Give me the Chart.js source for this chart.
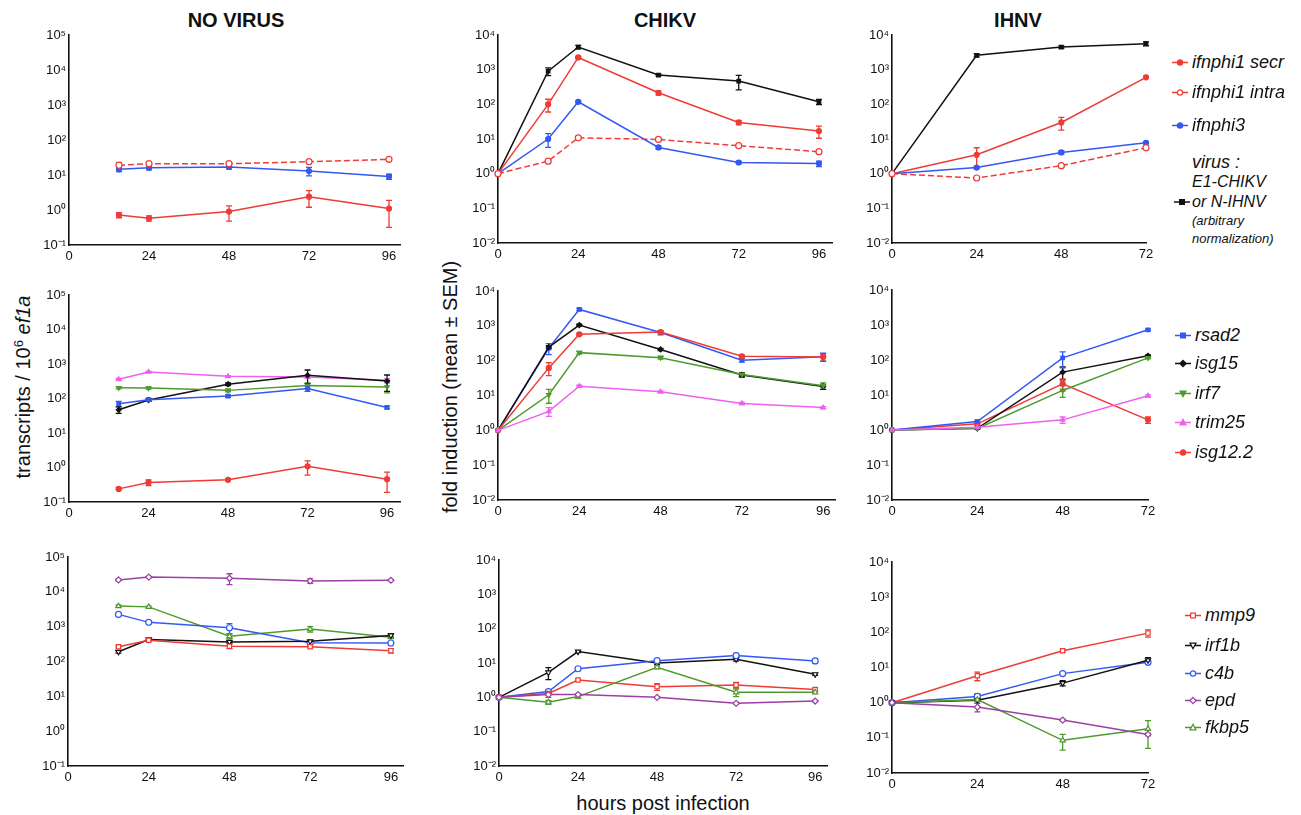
<!DOCTYPE html>
<html>
<head>
<meta charset="utf-8">
<title>Interferon and ISG kinetics</title>
<script src="https://cdn.jsdelivr.net/npm/chart.js@4.4.1/dist/chart.umd.min.js"></script>
<style>
  body { margin: 0; background: #fff; width: 1301px; height: 815px; position: relative; overflow: hidden;
         font-family: "Liberation Sans", Arial, Helvetica, sans-serif; color: #111; }
  canvas { position: absolute; }
  .col-title { position: absolute; font-weight: bold; font-size: 20px; white-space: nowrap; transform: translate(-50%, -50%); }
  .axis-title { position: absolute; font-size: 20px; white-space: nowrap; transform: translate(-50%, -50%); }
  .axis-title.vert { transform: translate(-50%, -50%) rotate(-90deg); }
  .axis-title sup { font-size: 13px; }
  .legend-item { position: absolute; display: flex; align-items: center; font-style: italic; font-size: 18px;
                 white-space: nowrap; transform: translateY(-50%); }
  .legend-item svg { margin-right: 4px; }
  .legend-text { position: absolute; font-style: italic; white-space: nowrap; transform: translateY(-50%); }
</style>
</head>
<body>

<div class="col-title" style="left:236px; top:20px;">NO VIRUS</div>
<div class="col-title" style="left:665px; top:20px;">CHIKV</div>
<div class="col-title" style="left:1018px; top:20px;">IHNV</div>

<div class="axis-title vert" style="left:23px; top:387px;">transcripts / 10<sup>6</sup> <i>ef1a</i></div>
<div class="axis-title vert" style="left:450px; top:387px;">fold induction (mean ± SEM)</div>
<div class="axis-title" style="left:663px; top:803px;">hours post infection</div>

<div class="legend-text" style="left:1192px; top:162px; font-size:18px;">virus :</div>
<div class="legend-text" style="left:1192px; top:182px; font-size:16px;">E1-CHIKV</div>
<div class="legend-text" style="left:1192px; top:202px; font-size:16px;">or N-IHNV</div>
<div class="legend-text" style="left:1192px; top:220px; font-size:13px;">(arbitrary</div>
<div class="legend-text" style="left:1192px; top:238px; font-size:13px;">normalization)</div>

<script>
// time points (hours post infection)
const hoursNoVirus = [15, 24, 48, 72, 96];
const hoursChikv = [0, 15, 24, 48, 72, 96];
const hoursIhnv = [0, 24, 48, 72];
const hourTicksLong = [0, 24, 48, 72, 96];
const hourTicksShort = [0, 24, 48, 72];
const decadesNoVirus = [0.1, 1, 10, 100, 1000, 10000, 100000];
const decadesFold = [0.01, 0.1, 1, 10, 100, 1000, 10000];

// row 1: interferons + virus
const secrNoVirus = [0.72, 0.58, 0.9, 2.4, 1.1];
const secrNoVirusSem = [0.12, 0.1, 0.42, 1.2, 0.78];
const secrChikv = [1, 100, 2250, 215, 30, 17];
const secrChikvSem = [0, 40, 150, 30, 4, 6.5];
const secrIhnv = [1, 3.5, 30, 600];
const secrIhnvSem = [0, 2.1, 12, 40];

const intraNoVirus = [19, 21, 21, 24, 28];
const intraNoVirusSem = [4, 1.5, 1.5, 2, 3];
const intraChikv = [1, 2.3, 10.8, 9.7, 6.4, 4.3];
const intraChikvSem = [0, 0.15, 0.8, 0.7, 0.4, 0.3];
const intraIhnv = [1, 0.75, 1.7, 5.6];
const intraIhnvSem = [0, 0.05, 0.1, 0.4];

const ifn3NoVirus = [14.5, 16, 17, 13, 9];
const ifn3NoVirusSem = [2, 2, 2.2, 3.5, 1.5];
const ifn3Chikv = [1, 10, 118, 5.7, 2.1, 1.95];
const ifn3ChikvSem = [0, 4.3, 8, 0.6, 0.15, 0.35];
const ifn3Ihnv = [1, 1.5, 4.1, 7.8];
const ifn3IhnvSem = [0, 0.1, 0.5, 0.5];

const virusChikv = [1, 900, 4500, 700, 470, 118];
const virusChikvSem = [0, 230, 500, 40, 210, 20];
const virusIhnv = [1, 2600, 4500, 5600];
const virusIhnvSem = [0, 250, 350, 700];

// row 2: interferon-stimulated genes
const rsad2NoVirus = [70, 92, 118, 195, 55];
const rsad2NoVirusSem = [12, 10, 10, 35, 5];
const rsad2Chikv = [1, 230, 2950, 640, 103, 130];
const rsad2ChikvSem = [0, 80, 200, 90, 12, 35];
const rsad2Ihnv = [1, 1.75, 115, 730];
const rsad2IhnvSem = [0, 0.15, 55, 50];

const isg15NoVirus = [47, 90, 260, 470, 320];
const isg15NoVirusSem = [10, 8, 25, 200, 160];
const isg15Chikv = [1, 245, 1050, 210, 39, 18];
const isg15ChikvSem = [0, 25, 60, 15, 5, 3];
const isg15Ihnv = [1, 1.12, 45, 132];
const isg15IhnvSem = [0, 0.05, 18, 8];

const irf7NoVirus = [205, 200, 172, 240, 215];
const irf7NoVirusSem = [15, 12, 15, 45, 70];
const irf7Chikv = [1, 10.5, 170, 122, 40, 19];
const irf7ChikvSem = [0, 4.5, 15, 12, 5, 4];
const irf7Ihnv = [1, 1.1, 13.5, 115];
const irf7IhnvSem = [0, 0.05, 5, 8];

const trim25NoVirus = [360, 590, 440, 420, 340];
const trim25NoVirusSem = [20, 25, 20, 30, 35];
const trim25Chikv = [1, 3.5, 18.5, 12.8, 5.9, 4.5];
const trim25ChikvSem = [0, 1.0, 1.2, 0.8, 0.4, 0.3];
const trim25Ihnv = [1, 1.2, 1.95, 9.5];
const trim25IhnvSem = [0, 0.05, 0.4, 0.6];

const isg12NoVirus = [0.24, 0.37, 0.44, 1.08, 0.46];
const isg12NoVirusSem = [0.02, 0.07, 0.03, 0.48, 0.27];
const isg12Chikv = [1, 62, 570, 660, 134, 128];
const isg12ChikvSem = [0, 25, 40, 50, 10, 30];
const isg12Ihnv = [1, 1.5, 21, 1.95];
const isg12IhnvSem = [0, 0.15, 8, 0.4];

// row 3: other genes
const mmp9NoVirus = [265, 410, 275, 265, 205];
const mmp9NoVirusSem = [20, 25, 40, 20, 30];
const mmp9Chikv = [1, 1.3, 3.2, 2.05, 2.3, 1.7];
const mmp9ChikvSem = [0, 0.1, 0.2, 0.45, 0.4, 0.15];
const mmp9Ihnv = [1, 5.8, 30, 95];
const mmp9IhnvSem = [0, 1.6, 2.5, 22];

const irf1bNoVirus = [190, 430, 365, 380, 560];
const irf1bNoVirusSem = [15, 20, 25, 25, 60];
const irf1bChikv = [1, 5.3, 21.5, 10, 12.8, 4.7];
const irf1bChikvSem = [0, 2, 1.5, 1, 1.5, 0.3];
const irf1bIhnv = [1, 1.17, 3.6, 16];
const irf1bIhnvSem = [0, 0.1, 0.6, 3];

const c4bNoVirus = [2250, 1330, 930, 345, 340];
const c4bNoVirusSem = [150, 80, 300, 30, 25];
const c4bChikv = [1, 1.47, 6.8, 11.7, 16.5, 11.5];
const c4bChikvSem = [0, 0.15, 0.4, 0.8, 2.5, 1.5];
const c4bIhnv = [1, 1.5, 6.7, 14];
const c4bIhnvSem = [0, 0.3, 0.4, 1.5];

const epdNoVirus = [22000, 26500, 24500, 20500, 21500];
const epdNoVirusSem = [1000, 1200, 8500, 3000, 1000];
const epdChikv = [1, 1.2, 1.2, 1.0, 0.67, 0.78];
const epdChikvSem = [0, 0.2, 0.08, 0.05, 0.04, 0.04];
const epdIhnv = [1, 0.75, 0.32, 0.125];
const epdIhnvSem = [0, 0.2, 0.02, 0.01];

const fkbp5NoVirus = [3900, 3700, 530, 850, 500];
const fkbp5NoVirusSem = [300, 200, 80, 150, 40];
const fkbp5Chikv = [1, 0.72, 1.05, 7.5, 1.4, 1.4];
const fkbp5ChikvSem = [0, 0.1, 0.1, 0.6, 0.35, 0.1];
const fkbp5Ihnv = [1, 1.22, 0.085, 0.18];
const fkbp5IhnvSem = [0, 0.5, 0.04, 0.13];

// colours / markers
const RED = '#ef3b36', BLUE = '#3358f4', BLACK = '#111111',
      GREEN = '#4f9a2c', MAGENTA = '#f060f0', PURPLE = '#9c3fa6';

const genes = {
  secr:   { label: 'ifnphi1 secr',  color: RED,     shape: 'circle' },
  intra:  { label: 'ifnphi1 intra', color: RED,     shape: 'circle', open: true, dash: [6, 3] },
  ifn3:   { label: 'ifnphi3',       color: BLUE,    shape: 'circle' },
  virus:  { label: '',              color: BLACK,   shape: 'rect' },
  rsad2:  { label: 'rsad2',         color: BLUE,    shape: 'rect' },
  isg15:  { label: 'isg15',         color: BLACK,   shape: 'rectRot' },
  irf7:   { label: 'irf7',          color: GREEN,   shape: 'triDown' },
  trim25: { label: 'trim25',        color: MAGENTA, shape: 'triangle' },
  isg12:  { label: 'isg12.2',       color: RED,     shape: 'circle' },
  mmp9:   { label: 'mmp9',          color: RED,     shape: 'rect', open: true },
  irf1b:  { label: 'irf1b',         color: BLACK,   shape: 'triDown', open: true },
  c4b:    { label: 'c4b',           color: BLUE,    shape: 'circle', open: true },
  epd:    { label: 'epd',           color: PURPLE,  shape: 'rectRot', open: true },
  fkbp5:  { label: 'fkbp5',         color: GREEN,   shape: 'triangle', open: true }
};

// panel frames: pixel of y axis, top decade, x axis, right end of x axis
const panels = [
  { left: 69,  top: 35,  right: 400,  bottom: 245, xMax: 99.3, ticksY: decadesNoVirus, hours: hoursNoVirus,
    series: [['intra', intraNoVirus, intraNoVirusSem], ['ifn3', ifn3NoVirus, ifn3NoVirusSem], ['secr', secrNoVirus, secrNoVirusSem]] },
  { left: 498, top: 35,  right: 832,  bottom: 243, xMax: 99.9, ticksY: decadesFold, hours: hoursChikv,
    series: [['intra', intraChikv, intraChikvSem], ['ifn3', ifn3Chikv, ifn3ChikvSem], ['secr', secrChikv, secrChikvSem], ['virus', virusChikv, virusChikvSem]] },
  { left: 892, top: 35,  right: 1146, bottom: 243, xMax: 72, ticksY: decadesFold, hours: hoursIhnv,
    series: [['intra', intraIhnv, intraIhnvSem], ['ifn3', ifn3Ihnv, ifn3IhnvSem], ['secr', secrIhnv, secrIhnvSem], ['virus', virusIhnv, virusIhnvSem]] },

  { left: 69,  top: 295, right: 400,  bottom: 502, xMax: 99.9, ticksY: decadesNoVirus, hours: hoursNoVirus,
    series: [['isg12', isg12NoVirus, isg12NoVirusSem], ['rsad2', rsad2NoVirus, rsad2NoVirusSem], ['irf7', irf7NoVirus, irf7NoVirusSem], ['isg15', isg15NoVirus, isg15NoVirusSem], ['trim25', trim25NoVirus, trim25NoVirusSem]] },
  { left: 498, top: 291, right: 835,  bottom: 500, xMax: 99.5, ticksY: decadesFold, hours: hoursChikv,
    series: [['trim25', trim25Chikv, trim25ChikvSem], ['irf7', irf7Chikv, irf7ChikvSem], ['isg12', isg12Chikv, isg12ChikvSem], ['isg15', isg15Chikv, isg15ChikvSem], ['rsad2', rsad2Chikv, rsad2ChikvSem]] },
  { left: 892, top: 290, right: 1148, bottom: 500, xMax: 72, ticksY: decadesFold, hours: hoursIhnv,
    series: [['trim25', trim25Ihnv, trim25IhnvSem], ['irf7', irf7Ihnv, irf7IhnvSem], ['isg15', isg15Ihnv, isg15IhnvSem], ['rsad2', rsad2Ihnv, rsad2IhnvSem], ['isg12', isg12Ihnv, isg12IhnvSem]] },

  { left: 68,  top: 557, right: 403,  bottom: 766, xMax: 99.6, ticksY: decadesNoVirus, hours: hoursNoVirus,
    series: [['mmp9', mmp9NoVirus, mmp9NoVirusSem], ['irf1b', irf1bNoVirus, irf1bNoVirusSem], ['c4b', c4bNoVirus, c4bNoVirusSem], ['fkbp5', fkbp5NoVirus, fkbp5NoVirusSem], ['epd', epdNoVirus, epdNoVirusSem]] },
  { left: 499, top: 560, right: 827,  bottom: 766, xMax: 99.6, ticksY: decadesFold, hours: hoursChikv,
    series: [['epd', epdChikv, epdChikvSem], ['fkbp5', fkbp5Chikv, fkbp5ChikvSem], ['mmp9', mmp9Chikv, mmp9ChikvSem], ['c4b', c4bChikv, c4bChikvSem], ['irf1b', irf1bChikv, irf1bChikvSem]] },
  { left: 892, top: 562, right: 1148, bottom: 773, xMax: 72, ticksY: decadesFold, hours: hoursIhnv,
    series: [['epd', epdIhnv, epdIhnvSem], ['fkbp5', fkbp5Ihnv, fkbp5IhnvSem], ['irf1b', irf1bIhnv, irf1bIhnvSem], ['c4b', c4bIhnv, c4bIhnvSem], ['mmp9', mmp9Ihnv, mmp9IhnvSem]] }
];

const YW = 60, XH = 28, PT = 12, PR = 14;
const FONT = '"Liberation Sans", Arial, Helvetica, sans-serif';
const SUP = { '-': '⁻', '0': '⁰', '1': '¹', '2': '²', '3': '³', '4': '⁴', '5': '⁵', '6': '⁶' };

function decadeLabel(v) {
  const e = String(Math.round(Math.log10(v)));
  return '10' + e.split('').map(c => SUP[c]).join('');
}

// SEM bars, drawn under lines and markers
const errorBars = {
  id: 'errorBars',
  beforeDatasetsDraw(chart) {
    const ctx = chart.ctx;
    const yScale = chart.scales.y;
    chart.data.datasets.forEach((ds, di) => {
      const meta = chart.getDatasetMeta(di);
      ctx.save();
      ctx.strokeStyle = ds.borderColor;
      ctx.lineWidth = 1.3;
      meta.data.forEach((pt, i) => {
        const s = ds.sem[i];
        if (!s) return;
        const m = ds.data[i].y;
        const yHi = yScale.getPixelForValue(m + s);
        const yLo = yScale.getPixelForValue(Math.max(m - s, m * 0.05));
        ctx.beginPath();
        ctx.moveTo(pt.x, yHi); ctx.lineTo(pt.x, yLo);
        ctx.moveTo(pt.x - 3, yHi); ctx.lineTo(pt.x + 3, yHi);
        ctx.moveTo(pt.x - 3, yLo); ctx.lineTo(pt.x + 3, yLo);
        ctx.stroke();
      });
      ctx.restore();
    });
  }
};

function makeDataset(key, hours, mean, sem) {
  const g = genes[key];
  const shape = g.shape === 'triDown' ? 'triangle' : g.shape;
  return {
    label: g.label,
    data: hours.map((h, i) => ({ x: h, y: mean[i] })),
    sem: sem,
    borderColor: g.color,
    backgroundColor: g.color,
    borderWidth: 1.5,
    borderDash: g.dash || [],
    pointStyle: shape,
    pointRotation: g.shape === 'triDown' ? 180 : 0,
    pointRadius: g.open ? 3 : 2.5,
    pointBorderWidth: 1.2,
    pointBorderColor: g.color,
    pointBackgroundColor: g.open ? '#ffffff' : g.color,
    tension: 0,
    fill: false,
    clip: false
  };
}

panels.forEach(p => {
  const canvas = document.createElement('canvas');
  const w = (p.right - p.left) + YW + PR;
  const h = (p.bottom - p.top) + PT + XH;
  canvas.width = w; canvas.height = h;
  canvas.style.width = w + 'px'; canvas.style.height = h + 'px';
  canvas.style.left = (p.left - YW) + 'px';
  canvas.style.top = (p.top - PT) + 'px';
  document.body.appendChild(canvas);

  const xTicks = p.xMax > 90 ? hourTicksLong : hourTicksShort;

  new Chart(canvas, {
    type: 'line',
    data: { datasets: p.series.map(s => makeDataset(s[0], p.hours, s[1], s[2])) },
    options: {
      responsive: false,
      animation: false,
      devicePixelRatio: 1,
      layout: { padding: { top: PT, right: PR, left: 0, bottom: 0 } },
      plugins: { legend: { display: false }, tooltip: { enabled: false } },
      scales: {
        x: {
          type: 'linear', min: 0, max: p.xMax,
          grid: { display: false, drawTicks: false },
          border: { display: true, color: '#111', width: 1.6 },
          ticks: { color: '#111', font: { family: FONT, size: 13 }, padding: 4, autoSkip: false, maxRotation: 0 },
          afterBuildTicks: s => { s.ticks = xTicks.map(v => ({ value: v })); },
          afterFit: s => { s.height = XH; }
        },
        y: {
          type: 'logarithmic', min: p.ticksY[0], max: p.ticksY[p.ticksY.length - 1],
          grid: { display: false, drawTicks: false },
          border: { display: true, color: '#111', width: 1.6 },
          ticks: { color: '#111', font: { family: FONT, size: 13 }, padding: 3, autoSkip: false, callback: v => decadeLabel(v) },
          afterBuildTicks: s => { s.ticks = p.ticksY.map(v => ({ value: v })); },
          afterFit: s => { s.width = YW; }
        }
      }
    },
    plugins: [errorBars]
  });
});

// legends
function markerSvg(key) {
  const g = genes[key];
  const fill = g.open ? '#fff' : g.color;
  const c = g.color;
  let m = '';
  if (g.shape === 'circle') m = `<circle cx="8" cy="6" r="2.6" fill="${fill}" stroke="${c}" stroke-width="1.2"/>`;
  else if (g.shape === 'rect') m = `<rect x="5.6" y="3.6" width="4.8" height="4.8" fill="${fill}" stroke="${c}" stroke-width="1.2"/>`;
  else if (g.shape === 'rectRot') m = `<path d="M8 2.9 L11.1 6 L8 9.1 L4.9 6 Z" fill="${fill}" stroke="${c}" stroke-width="1.2"/>`;
  else if (g.shape === 'triangle') m = `<path d="M8 2.8 L11 8.4 L5 8.4 Z" fill="${fill}" stroke="${c}" stroke-width="1.2"/>`;
  else m = `<path d="M8 9.2 L11 3.6 L5 3.6 Z" fill="${fill}" stroke="${c}" stroke-width="1.2"/>`;
  return `<svg width="16" height="12" viewBox="0 0 16 12"><line x1="0" y1="6" x2="16" y2="6" stroke="${c}" stroke-width="1.5"/>${m}</svg>`;
}

const legendBlocks = [
  { x: 1172, keys: ['secr', 'intra', 'ifn3'], ys: [62, 92, 125] },
  { x: 1174, keys: ['virus'], ys: [202] },
  { x: 1175, keys: ['rsad2', 'isg15', 'irf7', 'trim25', 'isg12'], ys: [335, 363, 393, 422, 452] },
  { x: 1185, keys: ['mmp9', 'irf1b', 'c4b', 'epd', 'fkbp5'], ys: [615, 645, 673, 700, 727] }
];

legendBlocks.forEach(b => {
  b.keys.forEach((k, i) => {
    const el = document.createElement('div');
    el.className = 'legend-item';
    el.style.left = b.x + 'px';
    el.style.top = b.ys[i] + 'px';
    el.innerHTML = markerSvg(k) + (genes[k].label ? `<span>${genes[k].label}</span>` : '');
    document.body.appendChild(el);
  });
});
</script>
</body>
</html>
